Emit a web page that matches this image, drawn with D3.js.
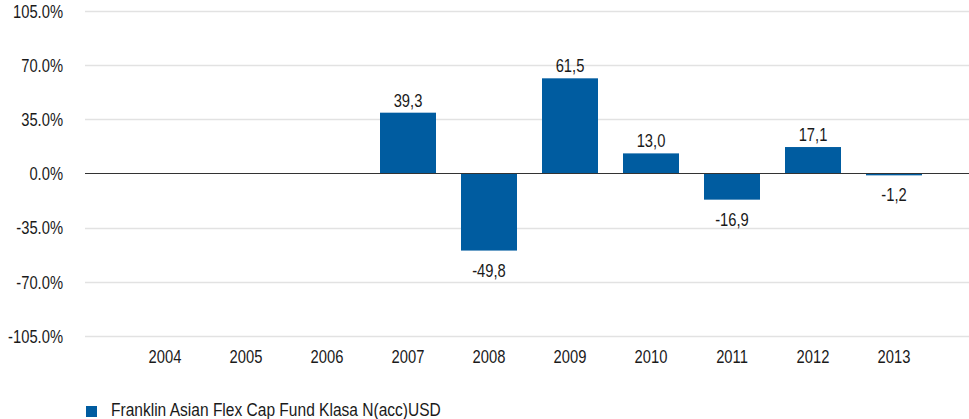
<!DOCTYPE html>
<html>
<head>
<meta charset="utf-8">
<script src="https://cdn.jsdelivr.net/npm/d3@7/dist/d3.min.js"></script>
<style>
  body { margin: 0; background: #fff; }
  text { font-family: "Liberation Sans Narrow", "Arial Narrow", "Liberation Sans", Arial, sans-serif; font-size: 18px; fill: #1a1a1a; }
</style>
</head>
<body>
<div class="chart"></div>
<script>
// Data
const years = ["2004", "2005", "2006", "2007", "2008", "2009", "2010", "2011", "2012", "2013"];
const returns = [null, null, null, 39.3, -49.8, 61.5, 13.0, -16.9, 17.1, -1.2];
const yTicks = [-105, -70, -35, 0, 35, 70, 105];
const seriesName = "Franklin Asian Flex Cap Fund Klasa N(acc)USD";

// Chart sizes
const w = 969;
const h = 419;
const barColor = "#005ca0";
// narrow look: squeeze the regular sans horizontally
const squeeze = "scale(0.82,1)";

const fmt = (d, pct) => {
  const s = Math.abs(d).toFixed(1) + (pct ? "%" : "");
  return (d < 0 ? "-" : "") + (pct ? s : s.replace(".", ","));
};

const svg = d3.select(".chart")
  .append("svg")
  .attr("width", w)
  .attr("height", h);

// Scales
const xScale = d3.scaleBand()
  .domain(years)
  .range([124.5, 934.5])
  .paddingInner(25 / 81)
  .paddingOuter(12.5 / 81);

const yScale = d3.scaleLinear()
  .domain([-105, 105])
  .range([336, 11]);

// Grid lines
svg.append("g")
  .selectAll("line")
  .data(yTicks.filter((d) => d !== 0))
  .enter()
  .append("line")
  .attr("x1", 85)
  .attr("x2", w)
  .attr("y1", (d) => Math.round(yScale(d)) + 0.5)
  .attr("y2", (d) => Math.round(yScale(d)) + 0.5)
  .attr("stroke", "#e2e2e2")
  .attr("stroke-width", 1.5);

// Y axis labels
const yAxis = svg.append("g")
  .attr("transform", "translate(63,0)")
  .call(d3.axisLeft(yScale).tickValues(yTicks).tickSize(0).tickPadding(0)
    .tickFormat((d) => fmt(d, true)));
yAxis.select(".domain").remove();
yAxis.selectAll("text")
  .attr("dy", "0.35em")
  .attr("transform", squeeze)
  .style("font-size", "18px");

// X axis labels
const xAxis = svg.append("g")
  .attr("transform", "translate(0,349)")
  .call(d3.axisBottom(xScale).tickSize(0).tickPadding(0));
xAxis.select(".domain").remove();
xAxis.selectAll("text")
  .attr("dy", "0.75em")
  .attr("transform", squeeze)
  .style("font-size", "18px");

// Bars
const barData = years.map((y, i) => ({ year: y, value: returns[i] })).filter((d) => d.value !== null);

svg.append("g")
  .selectAll("rect")
  .data(barData)
  .enter()
  .append("rect")
  .attr("x", (d) => xScale(d.year))
  .attr("y", (d) => yScale(Math.max(0, d.value)))
  .attr("width", xScale.bandwidth())
  .attr("height", (d) => Math.abs(yScale(d.value) - yScale(0)))
  .attr("fill", barColor);

// Zero line
svg.append("line")
  .attr("x1", 85)
  .attr("x2", w)
  .attr("y1", yScale(0))
  .attr("y2", yScale(0))
  .attr("stroke", "#333")
  .attr("stroke-width", 1);

// Value labels
svg.append("g")
  .selectAll("g")
  .data(barData)
  .enter()
  .append("g")
  .attr("transform", (d) => {
    const x = xScale(d.year) + xScale.bandwidth() / 2;
    const y = d.value >= 0 ? yScale(d.value) - 6 : yScale(d.value) + 26;
    return `translate(${x},${y})`;
  })
  .append("text")
  .attr("text-anchor", "middle")
  .attr("transform", squeeze)
  .text((d) => fmt(d.value, false));

// Legend
const legend = svg.append("g").attr("transform", "translate(86,406)");
legend.append("rect")
  .attr("width", 11)
  .attr("height", 11)
  .attr("fill", barColor);
legend.append("text")
  .attr("transform", "translate(25,10) scale(0.84,1)")
  .style("font-size", "18.5px")
  .text(seriesName);
</script>
</body>
</html>
